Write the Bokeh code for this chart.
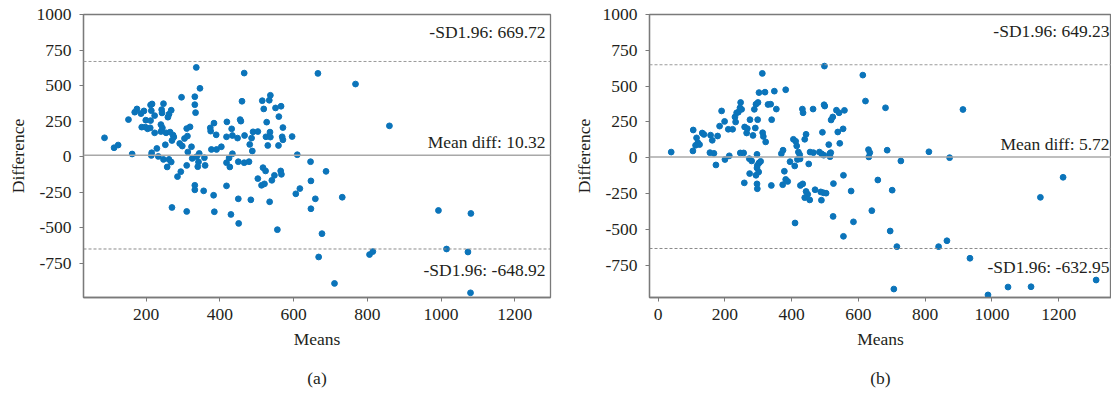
from bokeh.plotting import figure
from bokeh.models import Span, Label, FixedTicker, Range1d, LinearAxis
from bokeh.layouts import row
from bokeh.embed import file_html
from bokeh.resources import INLINE

# ---------------- data ----------------
a_means = [87, 113, 124, 162, 152, 169, 175, 186, 194, 212, 216, 214, 223, 199, 212, 188, 198, 204, 211, 223,
           240, 244, 240, 247, 242, 243, 259, 262, 268, 254, 265, 252, 273, 275, 270, 229, 215, 214, 233, 247,
           262, 268, 257, 294, 285, 296, 291, 298, 304, 310, 319, 312, 323, 313, 325, 336, 346, 332, 332, 334,
           344, 337, 342, 358, 360, 340, 310, 332, 332, 356, 383, 385, 310, 270, 375, 374, 384, 390, 377, 391,
           404, 419, 418, 432, 434, 448, 455, 457, 460, 466, 434, 425, 418, 427, 450, 466, 479, 418, 450, 484,
           430, 451, 467, 481, 488, 486, 490, 503, 515, 519, 534, 537, 527, 525, 537, 530, 536, 551, 566, 560,
           571, 569, 571, 559, 517, 524, 503, 513, 521, 541, 548, 565, 567, 535, 556,
           596, 610, 646, 688, 647, 617, 606, 659, 647, 732, 677, 668, 711, 806, 815, 666, 768, 860, 993, 1081,
           1015, 1073, 1080]
a_diffs = [133, 63, 82, 19, 261, 313, 336, 303, 322, 364, 371, 324, 289, 257, 254, 208, 208, 196, 203, 168,
           226, 203, 177, 373, 331, 308, 278, 299, 327, 168, 173, 84, 152, 138, 114, 58, 28, 9, 2, -19,
           -19, -37, -72, -105, -140, 418, 93, 75, 128, 198, 210, 145, 70, 33, -12, 628, 481, 422, 366, 310,
           23, 0, -37, -7, -61, -70, -61, -201, -233, -240, -271, -387, -385, -357, 180, 203, 236, 154, 51, 51,
           70, 245, 140, 196, 149, 131, 261, 250, 390, 588, 21, -9, -42, -72, -35, -42, -35, -205, -296, -303,
           -406, -469, 149, 86, 40, 131, 175, 177, 394, 336, 397, 432, 243, 140, 138, 79, 173, 343, 355, 282,
           205, 140, 119, 79, -77, -100, -154, -201, -191, -166, -131, -100, -124, -317, -513,
           142, 14, -35, -103, -170, -224, -261, -296, -366, -285, -541, -705, -891, -688, -667, 586, 511, 217, -378, -399,
           -649, -670, -957]

b_means = [39, 104, 105, 112, 115, 119, 124, 132, 137, 157, 162, 155, 167, 173, 178, 184, 190, 199, 200, 213,
           210, 223, 232, 230, 235, 240, 245, 247, 250, 246, 256, 259, 265, 267, 273, 280, 274, 258, 275, 284,
           288, 293, 299, 302, 291, 298, 296, 297, 296, 302, 307, 293, 301, 296, 297, 312, 320, 313, 315, 322,
           329, 337, 340, 348, 354, 339, 373, 382, 369, 374, 378, 382, 388, 395, 409, 405, 412, 415, 420, 424,
           417, 425, 432, 434, 443, 439, 451, 455, 465, 464, 426, 433, 443, 448, 439, 454, 470, 487, 495, 503,
           489, 410, 483, 490, 496, 492, 497, 499, 498, 511, 514, 517, 515, 518, 523, 534, 542, 558, 554, 538,
           544, 525, 555, 524, 555, 578, 585, 613, 621, 630, 634, 631, 640, 658,
           681, 686, 727, 701, 695, 715, 706, 811, 873, 913, 840, 865, 934, 988, 1048, 1117, 1145, 1213, 1312]
b_diffs = [40, 48, 194, 87, 139, 105, 92, 173, 163, 158, 122, 36, 31, -50, 152, 221, 327, 254, -12, 14,
           199, 199, 250, 285, 314, 318, 349, 386, 338, 34, 34, 215, 173, 204, -6, -22, -110, -175, 266, 156,
           338, 374, 386, 455, 208, 266, 24, -53, -71, -36, -25, -122, -99, -182, -216, 589, 458, 175, 149, 111,
           372, 374, 266, 465, 340, -193, -188, 475, 29, 53, -94, -151, -165, -27, -57, 129, 115, 83, 40, 22,
           -12, -8, 340, 314, 164, 129, -43, 40, 36, 340, -193, -182, -235, -255, -278, -294, -223, -238, -244, -247,
           -296, -455, 40, 27, 18, 178, 370, 361, 640, 92, 29, 36, 8, 264, 285, 332, 314, 331, 202, 180,
           101, -180, -122, -409, -548, -232, -447, 577, 396, 57, 36, 6, -369, -155,
           349, 53, -22, -226, -511, -620, -916, 42, 1, 337, -620, -579, -701, -957, -902, -900, -276, -136, -853]

a_stats = {"mean": 10.32, "upper": 669.72, "lower": -648.92}
b_stats = {"mean": 5.72, "upper": 649.23, "lower": -632.95}

y_ticks = [-750, -500, -250, 0, 250, 500, 750, 1000]
a_x_ticks = [200, 400, 600, 800, 1000, 1200]
b_x_ticks = [0, 200, 400, 600, 800, 1000, 1200]

FONT = "Liberation Serif"
FS = "17.5px"
TXT = "#231f20"
DOT = "#0B74BA"
AX = "#7a7a7a"


def style_axis(ax):
    ax.axis_line_color = AX
    ax.axis_line_width = 1.3
    ax.major_tick_line_color = AX
    ax.major_tick_out = 4
    ax.major_tick_in = 0
    ax.minor_tick_line_color = None
    ax.major_label_text_font = FONT
    ax.major_label_text_font_size = FS
    ax.major_label_text_color = TXT
    ax.axis_label_text_font = FONT
    ax.axis_label_text_font_size = FS
    ax.axis_label_text_font_style = "normal"
    ax.axis_label_text_color = TXT


def panel(means, diffs, stats, x_ticks, xr, yr, width, border_left, border_right, tag, offs):
    p = figure(width=width, height=394, output_backend="svg", toolbar_location=None,
               x_range=Range1d(*xr), y_range=Range1d(*yr),
               min_border_left=border_left, min_border_right=border_right,
               min_border_top=14, min_border_bottom=97)
    p.grid.visible = False
    p.outline_line_color = AX
    p.outline_line_width = 1.3
    p.background_fill_color = "white"
    p.border_fill_color = "white"

    style_axis(p.xaxis[0])
    style_axis(p.yaxis[0])

    p.xaxis.ticker = FixedTicker(ticks=x_ticks)
    p.yaxis.ticker = FixedTicker(ticks=y_ticks)
    p.yaxis.major_label_overrides = {t: str(t) for t in y_ticks}
    p.xaxis.major_label_overrides = {t: str(t) for t in x_ticks}
    p.xaxis.major_label_standoff = 7
    p.yaxis.major_label_standoff = 8
    p.xaxis.axis_label_standoff = 6
    p.yaxis.axis_label_standoff = 6
    p.xaxis.axis_label = "Means"
    p.yaxis.axis_label = "Difference"

    # panel tag, drawn as the label of a bare axis below the "Means" axis
    tag_axis = LinearAxis(ticker=FixedTicker(ticks=[]), axis_label=tag)
    style_axis(tag_axis)
    tag_axis.axis_line_color = None
    tag_axis.major_tick_line_color = None
    tag_axis.major_tick_out = 0
    tag_axis.major_label_standoff = 0
    tag_axis.axis_label_standoff = 16
    p.add_layout(tag_axis, "below")

    p.add_layout(Span(location=stats["upper"], dimension="width", line_color="#9a9a9a",
                      line_width=1, line_dash="3 2"))
    p.add_layout(Span(location=stats["lower"], dimension="width", line_color="#8a8a8a",
                      line_width=1, line_dash="3 2"))
    p.add_layout(Span(location=stats["mean"], dimension="width", line_color="#a8a8a8",
                      line_width=1.5))

    p.scatter(means, diffs, size=5.8, color=DOT, line_color=DOT)

    labels = [("-SD1.96: %.2f" % stats["upper"], stats["upper"], offs[0]),
              ("Mean diff: %.2f" % stats["mean"], stats["mean"], offs[1]),
              ("-SD1.96: %.2f" % stats["lower"], stats["lower"], offs[2])]
    for txt, yv, off in labels:
        p.add_layout(Label(x=xr[1], y=yv, text=txt, x_offset=offs[3], y_offset=off,
                           text_align="right", text_baseline="alphabetic",
                           text_font=FONT, text_font_size=FS, text_color=TXT))
    return p


pa = panel(a_means, a_diffs, a_stats, a_x_ticks, (30, 1297), (-990, 1000), 568, 83, 18, "(a)",
           (29, 13, -21, -5))
pb = panel(b_means, b_diffs, b_stats, b_x_ticks, (-26, 1358), (-975, 1000), 543, 81, 0, "(b)",
           (34, 13, -19, -2))

layout = row(pa, pb)
open("out.html", "w").write(file_html(layout, INLINE))
